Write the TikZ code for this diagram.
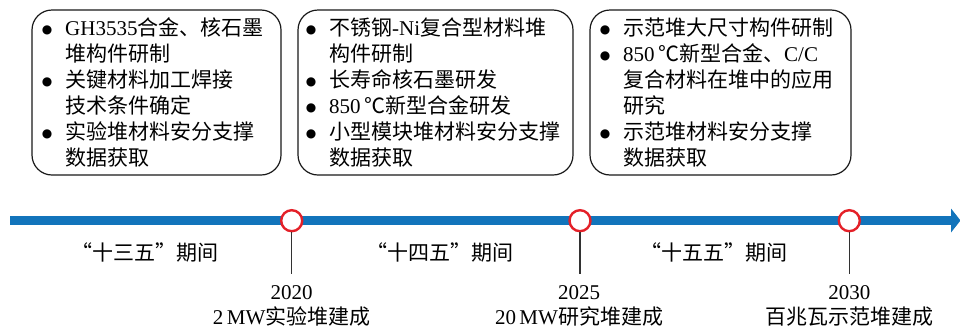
\documentclass[tikz,border=0pt]{standalone}
\usepackage{fontspec}
\setmainfont{Liberation Serif}
\newfontfamily\zhf{Noto Sans CJK SC}
\newfontfamily\symf{DejaVu Sans}
\newcommand\zh[1]{{\zhf #1}}
\newcommand\bulglyph{\makebox[36pt][c]{\raisebox{1.5pt}{\fontsize{12}{12}\selectfont\symf ●}}}
\newcommand\contind{\hspace*{36pt}}
\definecolor{tlblue}{RGB}{18,116,187}
\definecolor{msred}{RGB}{228,32,40}
\definecolor{tickgray}{RGB}{50,50,50}
\tikzset{
  taskbox/.style={draw=black!90, line width=1.2pt, rounded corners=20pt, minimum width=#1, minimum height=165pt, inner sep=0pt},
  itemtext/.style={align=left, inner sep=0pt, anchor=base west, font=\fontsize{21}{26}\selectfont},
  milestone/.style={circle, draw=msred, line width=2.4pt, fill=white, minimum size=21pt, inner sep=0pt},
  ticker/.style={draw=tickgray, line width=1.5pt},
  period/.style={anchor=base, inner sep=0pt, font=\fontsize{21}{26}\selectfont},
  yearlab/.style={anchor=base, align=center, inner sep=0pt, font=\fontsize{21}{25}\selectfont},
}
\begin{document}
\begin{tikzpicture}[x=1pt,y=-1pt]
\useasboundingbox (0,0) rectangle (960,327);
% boxes
\node[taskbox=249pt] (b1) at (156.5,92.5) {};
\node[taskbox=275pt] (b2) at (435.5,92.5) {};
\node[taskbox=261pt] (b3) at (720.5,92.5) {};
% text nodes anchored at the baseline of their last line
\node[itemtext] (t1) at (29,165) {%
\bulglyph GH3535\zh{合金、核石墨}\\
\contind\zh{堆构件研制}\\
\bulglyph\zh{关键材料加工焊接}\\
\contind\zh{技术条件确定}\\
\bulglyph\zh{实验堆材料安分支撑}\\
\contind\zh{数据获取}};
\node[itemtext] (t2) at (293,165) {%
\bulglyph\zh{不锈钢}-Ni\zh{复合型材料堆}\\
\contind\zh{构件研制}\\
\bulglyph\zh{长寿命核石墨研发}\\
\bulglyph 850\,\zh{℃新型合金研发}\\
\bulglyph\zh{小型模块堆材料安分支撑}\\
\contind\zh{数据获取}};
\node[itemtext] (t3) at (587,165) {%
\bulglyph\zh{示范堆大尺寸构件研制}\\
\bulglyph 850\,\zh{℃新型合金、}C/C\\
\contind\zh{复合材料在堆中的应用}\\
\contind\zh{研究}\\
\bulglyph\zh{示范堆材料安分支撑}\\
\contind\zh{数据获取}};
% timeline
\coordinate (tstart) at (10,220.5);
\coordinate (tend) at (951.5,220.5);
\draw[tlblue, line width=9.5pt] (tstart) -- (tend);
\fill[tlblue] (951,208.5) -- (960.5,220.5) -- (951,232.5) -- cycle;
% milestones
\node[milestone] (m1) at (291.7,220.7) {};
\node[milestone] (m2) at (580,220.7) {};
\node[milestone] (m3) at (849.3,220.7) {};
\coordinate (k1) at (291.7,274);
\coordinate (k2) at (580,274);
\coordinate (k3) at (849.3,274);
\draw[ticker] (m1.south) -- (k1);
\draw[ticker] (m2.south) -- (k2);
\draw[ticker] (m3.south) -- (k3);
% periods
\node[period] (p1) at (145,260) {\zh{“十三五”期间}};
\node[period] (p2) at (440,260) {\zh{“十四五”期间}};
\node[period] (p3) at (713.5,260) {\zh{“十五五”期间}};
% years
\node[yearlab] (y1) at (291.7,324) {2020\\2\,MW\zh{实验堆建成}};
\node[yearlab] (y2) at (579,324) {2025\\20\,MW\zh{研究堆建成}};
\node[yearlab] (y3) at (849.3,324) {2030\\\zh{百兆瓦示范堆建成}};
\end{tikzpicture}
\end{document}
